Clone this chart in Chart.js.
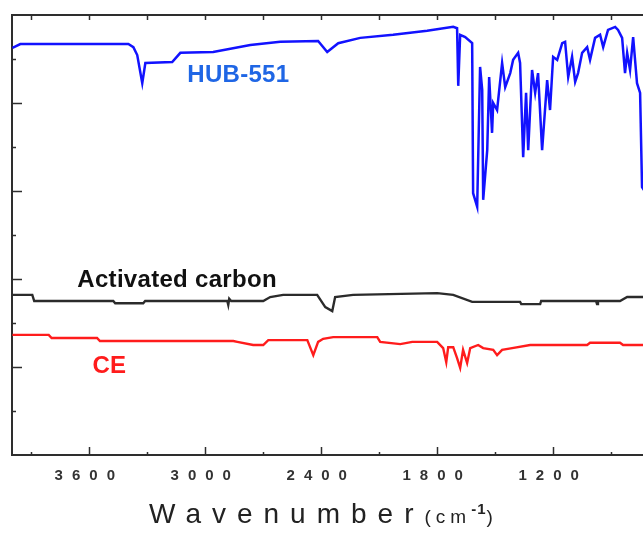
<!DOCTYPE html>
<html>
<head>
<meta charset="utf-8">
<script src="https://cdn.jsdelivr.net/npm/chart.js@4.4.1/dist/chart.umd.min.js"></script>
<style>
  html, body { margin: 0; padding: 0; background: #fff; overflow: hidden; }
  #wrap { position: relative; width: 643px; height: 533px; }
  #xtitle {
    position: absolute; left: 149px; top: 498px; text-align: left;
    font-family: "Liberation Sans Narrow", "Liberation Sans", sans-serif;
    font-size: 28px; letter-spacing: 11px; color: #222; white-space: nowrap;
  }
  #xtitle .u { font-size: 19px; letter-spacing: 5px; }
  #xtitle sup { font-size: 15px; font-weight: bold; letter-spacing: 1px; position: relative; top: -2px; }
</style>
</head>
<body>
<div id="wrap">
  <canvas id="chart" width="643" height="533"></canvas>
  <div id="xtitle">Wavenumber<span class="u">(cm<sup>-1</sup>)</span></div>
</div>
<script>
// wavenumber (cm-1) and transmittance-like values (0-100, arbitrary units)
const hubWave = [3998, 3957, 3398, 3372, 3352, 3326, 3310, 3171, 3129, 2959, 2767, 2612, 2416, 2369, 2312, 2198, 2028, 1852, 1717, 1697,
  1691, 1681, 1655, 1619, 1614, 1593, 1578, 1567, 1562, 1541, 1531, 1516, 1510, 1490, 1464, 1448, 1422, 1407, 1381, 1371,
  1355, 1340, 1329, 1309, 1293, 1278, 1257, 1231, 1216, 1200, 1179, 1153, 1138, 1122, 1102, 1086, 1071, 1050, 1024, 1009,
  983, 957, 941, 916, 879, 864, 843, 828, 817, 802, 786, 766, 750, 740, 730];
const hubVal = [92.5, 93.4, 93.4, 92.7, 90.9, 84.5, 89.1, 89.3, 91.4, 91.6, 93.2, 93.9, 94.1, 91.6, 93.6, 94.8, 95.5, 96.4, 97.3, 97.0,
  83.9, 95.5, 95.0, 93.6, 59.5, 56.4, 88.2, 83.0, 58.0, 69.3, 85.9, 73.2, 80.0, 78.4, 89.1, 83.6, 86.8, 89.8, 91.4, 89.1,
  67.7, 82.3, 69.3, 87.5, 82.3, 86.8, 69.3, 85.2, 78.4, 90.5, 89.8, 93.6, 93.9, 85.9, 90.5, 84.8, 86.8, 91.4, 92.7, 89.8,
  94.8, 95.5, 92.7, 96.6, 97.3, 96.6, 94.8, 86.8, 91.4, 87.5, 95.0, 84.5, 82.3, 60.9, 60.2];

const acWave = [3998, 3895, 3885, 3838, 3476, 3466, 3321, 3311, 2886, 2881, 2876, 2866, 2700, 2664, 2597, 2421, 2379, 2343, 2328, 2235,
  1800, 1717, 1619, 1371, 1365, 1267, 1262, 978, 973, 968, 854, 817, 730];
const acVal = [36.4, 36.4, 35.0, 35.0, 35.0, 34.5, 34.5, 35.0, 35.0, 34.1, 35.5, 35.0, 35.0, 35.9, 36.4, 36.4, 33.6, 32.7, 35.9, 36.4,
  36.8, 36.4, 34.8, 34.8, 34.3, 34.3, 35.0, 35.0, 34.3, 35.0, 35.0, 35.9, 35.9];

const ceWave = [3998, 3810, 3795, 3560, 3545, 2855, 2834, 2752, 2700, 2674, 2472, 2441, 2416, 2390, 2338, 2110, 2095, 1991, 1929, 1800,
  1769, 1753, 1743, 1717, 1697, 1681, 1666, 1645, 1629, 1588, 1562, 1510, 1490, 1464, 1412, 1319, 1024, 1009, 854, 838, 730];
const ceVal = [27.3, 27.3, 26.6, 26.6, 25.9, 25.9, 25.7, 25.0, 25.0, 26.1, 26.1, 22.7, 25.7, 26.4, 26.8, 26.8, 25.7, 25.2, 25.7, 25.7,
  24.3, 21.1, 24.5, 24.5, 22.0, 19.8, 23.9, 20.9, 24.3, 25.0, 24.3, 23.9, 22.7, 23.9, 24.3, 25.0, 25.0, 25.5, 25.5, 25.0, 25.0];

const seriesNames = ["HUB-551", "Activated carbon", "CE"];
const xTickValues = [3900, 3600, 3300, 3000, 2700, 2400, 2100, 1800, 1500, 1200, 900];
const xTickLabels = [3600, 3000, 2400, 1800, 1200];
const yTickValues = [10, 20, 30, 40, 50, 60, 70, 80, 90];

const axisColor = "#2e2e2e";
const lineColors = ["#1212ff", "#2b2b2b", "#ff1c1c"];
const textColors = ["#1f66e5", "#111111", "#ff1c1c"];
// where each name sits, in data units [wavenumber, value]
const labelAt = [[3093, 84.8], [3662, 38.2], [3584, 18.6]];

function pts(xs, ys) {
  return xs.map((x, i) => ({ x: x, y: ys[i] }));
}

const innerTicks = {
  id: "innerTicks",
  beforeDraw(chart) {
    chart.ctx.letterSpacing = "9px";
  },
  beforeDatasetsDraw(chart) {
    chart.ctx.letterSpacing = "0px";
  },
  afterDraw(chart) {
    const { ctx, chartArea: a, scales } = chart;
    ctx.save();
    ctx.letterSpacing = "0px";
    ctx.strokeStyle = axisColor;
    ctx.lineWidth = 1.5;
    const seg = (x1, y1, x2, y2) => {
      ctx.beginPath(); ctx.moveTo(x1, y1); ctx.lineTo(x2, y2); ctx.stroke();
    };
    xTickValues.forEach(v => {
      const px = Math.round(scales.x.getPixelForValue(v)) + 0.5;
      const major = xTickLabels.includes(v);
      seg(px, a.bottom, px, a.bottom - (major ? 8 : 3));
      seg(px, a.top, px, a.top + 5);
    });
    yTickValues.forEach(v => {
      const py = Math.round(scales.y.getPixelForValue(v)) + 0.5;
      seg(a.left, py, a.left + (v % 20 === 0 ? 10 : 4), py);
    });

    // series names
    ctx.font = "bold 24px 'Liberation Sans', Arial, sans-serif";
    ctx.letterSpacing = "0.3px";
    ctx.textBaseline = "alphabetic";
    ctx.textAlign = "left";
    seriesNames.forEach((name, i) => {
      ctx.fillStyle = textColors[i];
      ctx.fillText(name, scales.x.getPixelForValue(labelAt[i][0]), scales.y.getPixelForValue(labelAt[i][1]));
    });
    ctx.restore();
  }
};

const datasets = [
  { label: seriesNames[0], data: pts(hubWave, hubVal), borderColor: lineColors[0], borderWidth: 2.5 },
  { label: seriesNames[1], data: pts(acWave, acVal), borderColor: lineColors[1], borderWidth: 2.4 },
  { label: seriesNames[2], data: pts(ceWave, ceVal), borderColor: lineColors[2], borderWidth: 2.4 }
].map(d => Object.assign(d, { pointRadius: 0, tension: 0, fill: false }));

new Chart(document.getElementById("chart"), {
  type: "line",
  data: { datasets },
  options: {
    responsive: false,
    animation: false,
    layout: { padding: { top: 15, right: 0, left: 0, bottom: 0 } },
    plugins: { legend: { display: false }, tooltip: { enabled: false } },
    scales: {
      x: {
        type: "linear", position: "bottom", reverse: true, min: 735, max: 4000,
        grid: { display: false, drawTicks: false },
        border: { display: true, color: axisColor, width: 2 },
        afterBuildTicks: s => { s.ticks = xTickValues.map(v => ({ value: v })); },
        afterFit: s => { s.height = 78; },
        ticks: {
          autoSkip: false, maxRotation: 0, padding: 12, color: "#333",
          font: { family: "'Liberation Sans Narrow', 'Liberation Sans', sans-serif", size: 15, weight: "bold" },
          callback: v => xTickLabels.includes(v) ? String(v) : ""
        }
      },
      x2: {
        type: "linear", position: "top", reverse: true, min: 735, max: 4000,
        grid: { display: false, drawTicks: false },
        border: { display: true, color: axisColor, width: 2 },
        ticks: { display: false },
        afterFit: s => { s.height = 0; }
      },
      y: {
        min: 0, max: 100,
        grid: { display: false, drawTicks: false },
        border: { display: true, color: axisColor, width: 2 },
        ticks: { display: false },
        afterFit: s => { s.width = 12; }
      }
    }
  },
  plugins: [innerTicks]
});
</script>
</body>
</html>
